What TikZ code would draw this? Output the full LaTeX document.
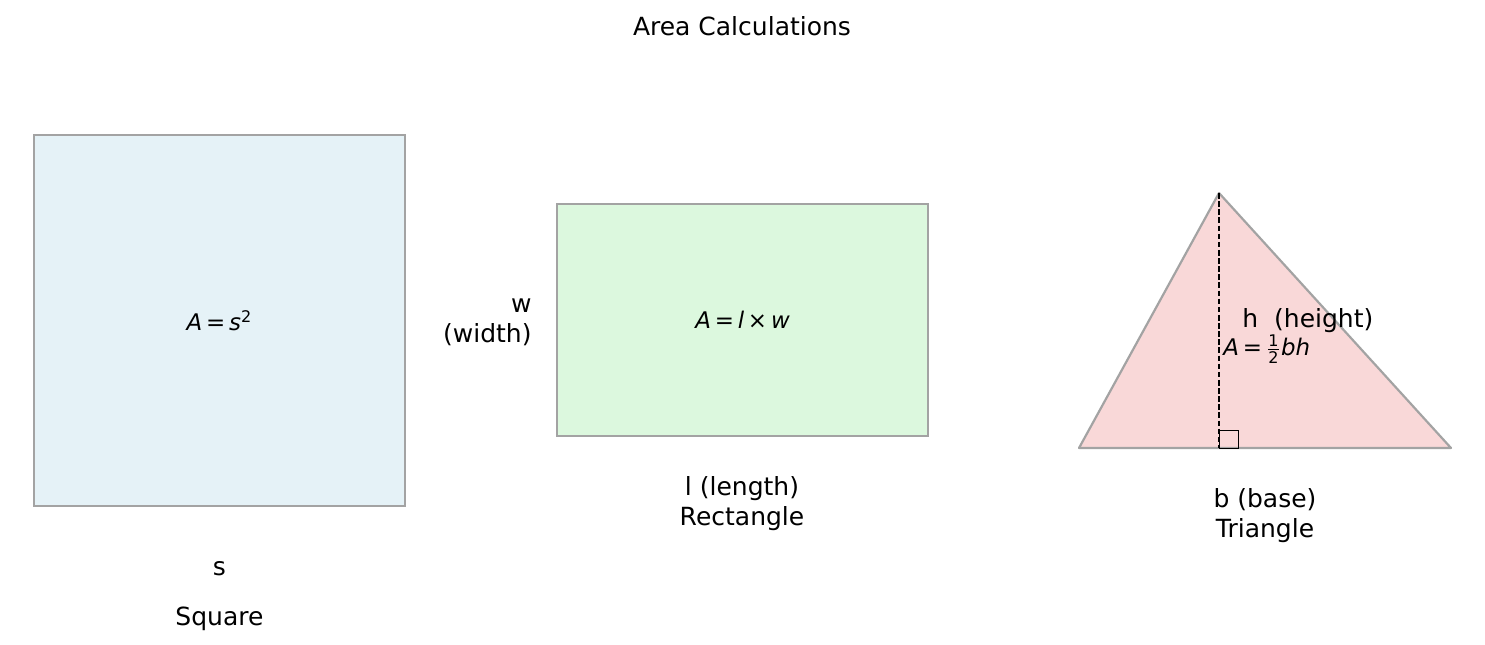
\documentclass[tikz,border=0pt]{standalone}
\usepackage{amsmath}
\usepackage{fontspec}
\setmainfont{DejaVu Sans}
\usetikzlibrary{positioning}

\begin{document}
\begin{tikzpicture}[
    x=0.48pt, y=-0.48pt,
    shapebox/.style={draw=black!36, line width=1.05pt, inner sep=0pt},
    lbl/.style={font=\fontsize{12}{14.4}\selectfont, inner sep=0pt},
    formula/.style={font=\fontsize{11}{13}\selectfont, inner sep=0pt}
  ]
  \useasboundingbox (0,0) rectangle (1485,645);

  \node[lbl] (title) at (742,26) {Area Calculations};

  % square
  \node[shapebox, fill={rgb,255:red,229;green,242;blue,247},
        minimum width=178.1pt, minimum height=178.1pt,
        formula] (square) at (219.5,320.5)
    {\itshape A\,\upshape=\,\itshape s\upshape\textsuperscript{2}};
  \node[lbl] (sqside) at (219.5,569) {s};
  \node[lbl, below=0.5cm of sqside.south, anchor=north] (sqname) {Square};

  % rectangle
  \node[shapebox, fill={rgb,255:red,220;green,248;blue,222},
        minimum width=178.1pt, minimum height=111.4pt,
        formula] (rect) at (742.5,320)
    {\itshape A\,\upshape=\,\itshape l\,\upshape×\,\itshape w};
  \node[lbl, align=right, anchor=east] (rectw) at (532,322) {w\\(width)};
  \node[lbl, align=center] (rectl) at (742,504) {l (length)\\Rectangle};

  % triangle
  \coordinate (tl) at (1079,448);
  \coordinate (tr) at (1451,448);
  \coordinate (tt) at (1219,193);
  \coordinate (tf) at (1219,448);
  \draw[draw=black!36, line width=1.05pt,
        fill={rgb,255:red,249;green,216;blue,216}, line join=round]
    (tl) -- (tr) -- (tt) -- cycle;
  \draw[dash pattern=on 2.7pt off 1.2pt, line width=0.8pt] (tt) -- (tf);
  \draw[line width=0.45pt] (tf) rectangle ++(19,-18);
  \node[lbl, anchor=west] (trih) at (1242,321) {h\ \ (height)};
  \node[formula, anchor=west] (triform) at (1223,349)
    {\itshape A\,\upshape=\,$\frac{\text{1}}{\text{2}}$\itshape bh};
  \node[lbl, align=center] (trib) at (1265,516) {b (base)\\Triangle};
\end{tikzpicture}
\end{document}
